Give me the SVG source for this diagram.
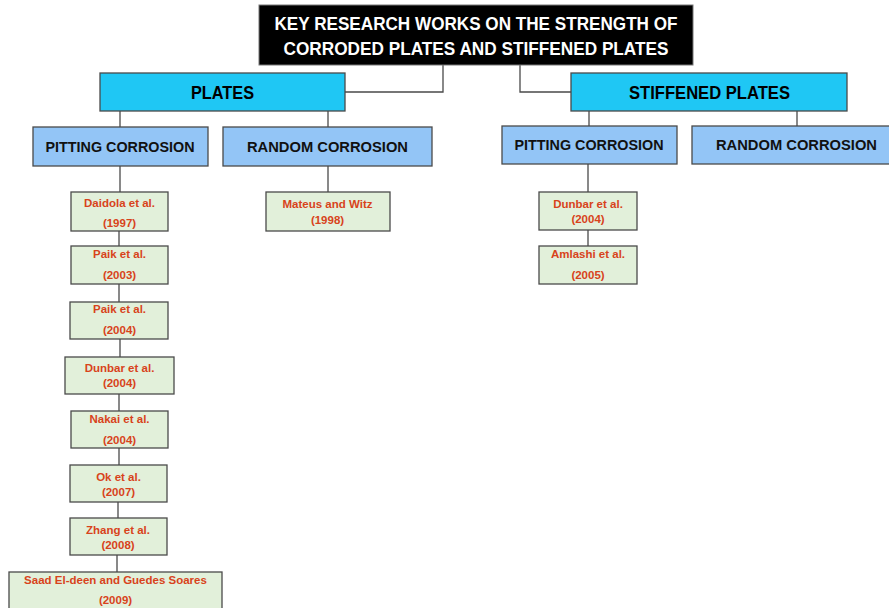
<svg xmlns="http://www.w3.org/2000/svg" width="889" height="608" viewBox="0 0 889 608">
<style>
text{font-family:"Liberation Sans",Arial,sans-serif;font-weight:bold;text-anchor:middle}
.title rect{fill:#000;stroke:#777;stroke-width:1}
.title text{fill:#fff;font-size:18.5px}
.main rect{fill:#1fc7f4;stroke:#4a4a4a;stroke-width:1.3}
.main text{fill:#000;font-size:18.5px}
.cat rect{fill:#93c5f6;stroke:#4a4a4a;stroke-width:1.3}
.cat text{fill:#111;font-size:15.5px}
.ref rect{fill:#e2f0da;stroke:#4a4a4a;stroke-width:1.3}
.ref text{fill:#d8431b;font-size:11.5px}
#connectors path{fill:none;stroke:#4a4a4a;stroke-width:1.3}
</style>
<rect width="889" height="608" fill="#fff"/>
<g id="connectors">
<path d="M443,65 V92 H345"/>
<path d="M520,65 V92 H571"/>
<path d="M120,111 V127"/>
<path d="M328,111 V127"/>
<path d="M589,111 V126"/>
<path d="M797,111 V126"/>
<path d="M120,166 V192"/>
<path d="M328,166 V192"/>
<path d="M588,164 V192"/>
<path d="M588,230 V246"/>
<path d="M119,231 V246"/>
<path d="M119,284 V302"/>
<path d="M120,339 V357"/>
<path d="M119,394 V411"/>
<path d="M119,448 V465"/>
<path d="M118,502 V518"/>
<path d="M117,555 V572"/>
</g>
<g id="title" class="title">
<rect x="259" y="5" width="434" height="60"/>
<text x="476" y="30" textLength="403" lengthAdjust="spacingAndGlyphs">KEY RESEARCH WORKS ON THE STRENGTH OF</text>
<text x="476" y="55" textLength="385" lengthAdjust="spacingAndGlyphs">CORRODED PLATES AND STIFFENED PLATES</text>
</g>
<g id="plates" class="main">
<rect x="100" y="73" width="245" height="38"/>
<text x="222.5" y="99" textLength="63" lengthAdjust="spacingAndGlyphs">PLATES</text>
</g>
<g id="stiffened" class="main">
<rect x="571" y="73" width="276" height="38"/>
<text x="709.5" y="99" textLength="161" lengthAdjust="spacingAndGlyphs">STIFFENED PLATES</text>
</g>
<g id="plates-pitting" class="cat">
<rect x="33" y="127" width="175" height="39"/>
<text x="120" y="152" textLength="149" lengthAdjust="spacingAndGlyphs">PITTING CORROSION</text>
</g>
<g id="plates-random" class="cat">
<rect x="223" y="127" width="209" height="39"/>
<text x="327.5" y="152" textLength="161" lengthAdjust="spacingAndGlyphs">RANDOM CORROSION</text>
</g>
<g id="stiff-pitting" class="cat">
<rect x="502" y="126" width="175" height="38"/>
<text x="589" y="150" textLength="149" lengthAdjust="spacingAndGlyphs">PITTING CORROSION</text>
</g>
<g id="stiff-random" class="cat">
<rect x="692" y="126" width="200" height="38"/>
<text x="796.5" y="150" textLength="161" lengthAdjust="spacingAndGlyphs">RANDOM CORROSION</text>
</g>
<g id="daidola" class="ref">
<rect x="71" y="192" width="97" height="39"/>
<text x="119.5" y="207">Daidola et al.</text>
<text x="119.5" y="227">(1997)</text>
</g>
<g id="mateus" class="ref">
<rect x="266" y="192" width="124" height="39"/>
<text x="327.5" y="208">Mateus and Witz</text>
<text x="327.5" y="224">(1998)</text>
</g>
<g id="dunbar-stiff" class="ref">
<rect x="539" y="192" width="98" height="38"/>
<text x="588" y="208">Dunbar et al.</text>
<text x="588" y="223">(2004)</text>
</g>
<g id="amlashi" class="ref">
<rect x="539" y="246" width="98" height="38"/>
<text x="588" y="258">Amlashi et al.</text>
<text x="588" y="279">(2005)</text>
</g>
<g id="paik2003" class="ref">
<rect x="71" y="246" width="97" height="38"/>
<text x="119.5" y="258">Paik et al.</text>
<text x="119.5" y="279">(2003)</text>
</g>
<g id="paik2004" class="ref">
<rect x="70" y="302" width="98" height="37"/>
<text x="119.5" y="313">Paik et al.</text>
<text x="119.5" y="334">(2004)</text>
</g>
<g id="dunbar-plates" class="ref">
<rect x="65" y="357" width="109" height="37"/>
<text x="119.5" y="372">Dunbar et al.</text>
<text x="119.5" y="387">(2004)</text>
</g>
<g id="nakai" class="ref">
<rect x="71" y="411" width="97" height="37"/>
<text x="119.5" y="423">Nakai et al.</text>
<text x="119.5" y="444">(2004)</text>
</g>
<g id="ok" class="ref">
<rect x="70" y="465" width="97" height="37"/>
<text x="118.5" y="481">Ok et al.</text>
<text x="118.5" y="496">(2007)</text>
</g>
<g id="zhang" class="ref">
<rect x="70" y="518" width="97" height="37"/>
<text x="118" y="534">Zhang et al.</text>
<text x="118" y="549">(2008)</text>
</g>
<g id="saad" class="ref">
<rect x="9" y="572" width="213" height="40"/>
<text x="115.5" y="584">Saad El-deen and Guedes Soares</text>
<text x="115.5" y="604">(2009)</text>
</g>
</svg>
